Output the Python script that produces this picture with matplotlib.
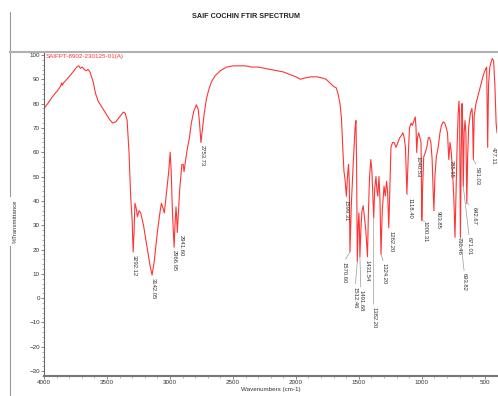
import matplotlib.pyplot as plt
from matplotlib.lines import Line2D
from matplotlib.ticker import MultipleLocator

plt.rcParams['font.family'] = ['Liberation Sans', 'DejaVu Sans']

# spectrum trace, wavenumber (cm-1) vs %T
wavenumbers = [
    4000, 3970, 3930, 3890, 3870, 3860, 3855, 3845, 3810, 3770, 3740, 3725, 3710, 3695, 3680,
    3665, 3650, 3635, 3610, 3590, 3570, 3540, 3510, 3480, 3455, 3430, 3400, 3370, 3355, 3340,
    3325, 3312, 3300, 3292.12, 3285, 3278, 3268, 3258, 3245, 3232, 3210, 3185, 3160, 3142.05,
    3125, 3100, 3080, 3068, 3055, 3045, 3030, 3010, 2998, 2990, 2980, 2966.95, 2960, 2952,
    2946, 2941.60, 2935, 2922, 2905, 2895, 2888, 2875, 2860, 2845, 2830, 2810, 2790, 2775,
    2765, 2753.73, 2745, 2730, 2710, 2690, 2670, 2640, 2600, 2550, 2500, 2450, 2400, 2350,
    2300, 2250, 2200, 2150, 2100, 2050, 2000, 1965, 1930, 1880, 1830, 1790, 1760, 1730, 1700,
    1680, 1665, 1650, 1638, 1628, 1618, 1610, 1599.31, 1590, 1582, 1576, 1570.60, 1560, 1545,
    1530, 1523, 1518, 1512.46, 1505, 1500, 1496, 1491.68, 1484, 1475, 1465, 1455, 1445,
    1431.54, 1424, 1415, 1405, 1396, 1390, 1382.20, 1374, 1364, 1356, 1350, 1340, 1332,
    1324.20, 1314, 1300, 1290, 1280, 1272, 1262.20, 1254, 1245, 1232, 1220, 1205, 1190, 1175,
    1160, 1150, 1140, 1130, 1118.40, 1108, 1098, 1085, 1075, 1062, 1052, 1046, 1040.53, 1034,
    1025, 1015, 1006, 1000.31, 994, 985, 972, 960, 948, 938, 928, 918, 910, 903.85, 896, 885,
    870, 856, 844, 830, 818, 806, 796, 785.65, 776, 766, 756, 745, 736.46, 728, 720, 712, 705,
    700, 693.82, 687, 681, 676, 671.01, 664, 657, 650, 642.67, 636, 628, 615, 602, 597, 591.03,
    584, 570, 555, 540, 525, 510, 495, 485, 477.11, 470, 460, 450, 440, 430, 420, 410, 403,
]
transmittance = [
    78, 80, 83, 85.5, 87, 88.5, 87.5, 88.5, 90.5, 93, 95, 95.5, 94.5, 95, 94,
    93.5, 94, 93, 89, 84, 81, 78.5, 76, 73.5, 72, 72.5, 74.5, 76.5, 76, 73,
    60, 42, 32, 19, 27, 39, 37, 33.5, 36, 35, 30, 22, 14, 9.5,
    15, 27, 35, 39, 37, 35, 42, 52, 60, 52, 35, 21, 30, 37.5,
    33, 27, 33, 45, 55, 55, 52, 57, 62, 66, 72, 77, 79.5, 77.5,
    72, 64, 68, 75, 82, 86, 89, 91.5, 93.5, 95, 95.5, 95.5, 95.5, 95,
    95, 94.5, 94, 93.5, 93, 92, 91, 90, 90.5, 91, 91, 90.5, 90, 88.5, 87,
    86.5, 84, 80, 74, 62, 52, 49, 42, 50, 55, 48, 19, 38, 55,
    70, 73, 55, 15, 30, 35, 30, 17, 28, 36, 38, 33, 28,
    17, 35, 50, 57, 52, 44, 33, 45, 50, 44, 42, 50, 40,
    18, 36, 46, 42, 48, 44, 29, 45, 62, 64, 64, 62, 64, 66,
    67, 68, 66, 62, 43, 58, 70, 72, 71, 73, 74.5, 70, 60, 66,
    68, 66, 64, 32, 45, 58, 60, 62, 66, 66, 64, 57, 44, 36, 50, 58,
    62, 68, 71, 72.5, 72, 70, 68, 57, 64, 60, 52, 40, 25, 45, 62, 75, 81,
    76, 25, 60, 80, 72, 46, 68, 73, 68, 39, 58, 70, 76, 78, 74, 57,
    75, 80, 83, 86, 89, 92, 94, 95, 62, 88, 95, 97, 98.5, 97.5, 88, 72, 68,
]

# picked peaks
peak_labels = [
    "3292.12", "3142.05", "2966.95", "2941.60", "2753.73", "1599.31", "1570.60", "1512.46",
    "1491.68", "1431.54", "1382.20", "1324.20", "1262.20", "1118.40", "1040.53", "1000.31",
    "903.85", "785.65", "736.46", "693.82", "671.01", "642.67", "591.03", "477.11",
]
peak_wn = [float(s) for s in peak_labels]
peak_t = [transmittance[wavenumbers.index(w)] for w in peak_wn]

# label position relative to the peak tip: (pixels right, pixels down)
label_shift = [
    (1.5, 3), (1.5, 3), (0, 3), (3.5, 3), (1.5, 3), (0, 4), (-6, 10), (-2, 25),
    (1, 33), (0, 3), (0, 89), (3, 9), (2, 3), (3, 4), (1, 4), (3, 1),
    (4, 0), (2, 0), (4, 0), (4, 36), (6, 51), (7, 4), (4, 7), (6, 0),
]

W, H = 498, 396
fig = plt.figure(figsize=(W / 100, H / 100), dpi=100)
ax = fig.add_axes([44 / W, 20 / H, 453 / W, 324 / H])

ax.plot(wavenumbers, transmittance, color='#ff3535', lw=0.8)
ax.set_xlim(4000, 403)
ax.set_ylim(-32, 101.2)

ax.set_xticks([4000, 3500, 3000, 2500, 2000, 1500, 1000, 500])
ax.set_yticks(range(-30, 101, 10))
ax.xaxis.set_minor_locator(MultipleLocator(100))
ax.yaxis.set_minor_locator(MultipleLocator(2))
ax.tick_params(which='major', labelsize=4.5, length=2, width=0.5, pad=1,
               colors='#555', labelcolor='#333')
ax.tick_params(which='minor', length=1.2, width=0.4, colors='#777')

ax.spines['right'].set_visible(False)
ax.spines['top'].set_color('#b0b0b0')
ax.spines['top'].set_linewidth(1.5)
ax.spines['left'].set_color('#666')
ax.spines['left'].set_linewidth(0.8)
ax.spines['bottom'].set_color('#777')
ax.spines['bottom'].set_linewidth(1.5)

ax.set_xlabel('Wavenumbers (cm-1)', fontsize=4.5, labelpad=1, color='#333')
ax.text(0.003, 0.994, 'SAIFPT-8902-230125-01(A)', transform=ax.transAxes,
        color='#ff3535', fontsize=4.5, ha='left', va='top')

for lab, wn, t, (dx, dy) in zip(peak_labels, peak_wn, peak_t, label_shift):
    arrow = None
    if dy > 0:
        arrow = dict(arrowstyle='-', color='#999', lw=0.5, shrinkA=0, shrinkB=0,
                     relpos=(0.5, 1))
    ax.annotate(lab, xy=(wn, t), xytext=(dx * 0.72, -dy * 0.72),
                textcoords='offset points', rotation=270, ha='center', va='top',
                fontsize=4.2, color='#333', arrowprops=arrow)

# page frame and headings
fig.add_artist(Line2D([10 / W, 10 / W], [1 - 12 / H, 1 - 196 / H], color='#999', lw=0.8))
fig.add_artist(Line2D([10 / W, 10 / W], [1 - 246 / H, 0], color='#999', lw=0.8))
fig.add_artist(Line2D([10 / W, 44 / W], [1 - 52 / H, 1 - 52 / H], color='#b0b0b0', lw=1.5))
fig.text(246 / W, 1 - 16 / H, 'SAIF COCHIN FTIR SPECTRUM', ha='center', va='center',
         fontsize=5.2, weight='bold', color='#222')
fig.text(15 / W, 1 - 221 / H, '%Transmittance', rotation=90, ha='center', va='center',
         fontsize=4.3, color='#333')

fig.savefig('out.png', dpi=100)
